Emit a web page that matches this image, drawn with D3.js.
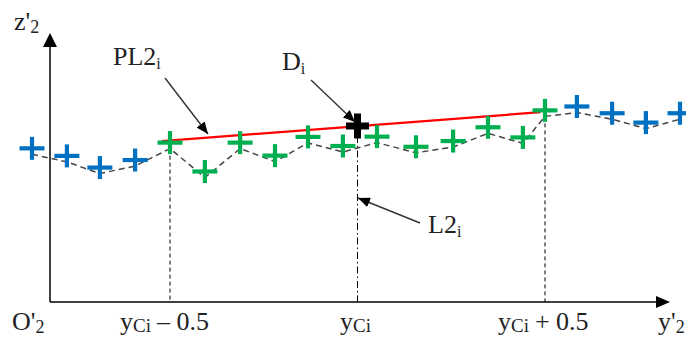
<!DOCTYPE html>
<html><head><meta charset="utf-8">
<script src="https://cdn.jsdelivr.net/npm/d3@7"></script>
</head><body style="margin:0">
<svg id="chart" width="686" height="342"></svg>
<script>
// Data (y' in units relative to yCi, z' in arbitrary units)
const blueLeftY  = [-0.868, -0.775, -0.687, -0.593];
const blueLeftZ  = [5.91, 5.62, 5.17, 5.46];
const greenY     = [-0.5, -0.407, -0.313, -0.22, -0.132, -0.039, 0.052, 0.156, 0.255, 0.348, 0.441, 0.5];
const greenZ     = [6.13, 5.02, 6.13, 5.63, 6.35, 6.0, 6.36, 5.97, 6.19, 6.72, 6.33, 7.37];
const blueRightY = [0.585, 0.679, 0.769, 0.86];
const blueRightZ = [7.52, 7.26, 6.90, 7.26];
const pointD     = {y: 0.0, z: 6.77};
const fitLineY   = [-0.522, 0.488];
const fitLineZ   = [6.19, 7.30];
const guideY     = [-0.5, 0.0, 0.5];
const tickLabels = ["yCi – 0.5", "yCi", "yCi + 0.5"];

const svg = d3.select("#chart");
const x = d3.scaleLinear().domain([-0.5, 0.5]).range([170, 545]);
const z = d3.scaleLinear().domain([0, 10]).range([302, 42]);
const x0 = 50, yAxisPos = 302;
const lineOff = 6; // dashed polyline sits slightly below the marker centres

const defs = svg.append("defs");
defs.append("marker").attr("id","ah").attr("viewBox","0 0 12 10")
  .attr("refX",12).attr("refY",5).attr("markerWidth",12).attr("markerHeight",10)
  .attr("markerUnits","userSpaceOnUse").attr("orient","auto")
  .append("path").attr("d","M0,0L12,5L0,10Z").attr("fill","#000");

// axes
svg.append("line").attr("x1",x0).attr("y1",yAxisPos).attr("x2",x0).attr("y2",46)
  .attr("stroke","#000").attr("stroke-width",1.5);
svg.append("path").attr("d",`M${x0},33L${x0-7},47L${x0+7},47Z`).attr("fill","#000");
svg.append("line").attr("x1",x0).attr("y1",yAxisPos).attr("x2",658).attr("y2",yAxisPos)
  .attr("stroke","#000").attr("stroke-width",1.5);
svg.append("path").attr("d",`M670,${yAxisPos}L656,${yAxisPos-6}L656,${yAxisPos+6}Z`).attr("fill","#000");

// all series points in order
const pts = [];
blueLeftY.forEach((v,i)=>pts.push({y:v,z:blueLeftZ[i],c:"#0070c0"}));
greenY.forEach((v,i)=>pts.push({y:v,z:greenZ[i],c:"#00b050"}));
blueRightY.forEach((v,i)=>pts.push({y:v,z:blueRightZ[i],c:"#0070c0"}));

// vertical guides
const zAt = yy => { const p = pts.find(d=>Math.abs(d.y-yy)<1e-9); return p ? z(p.z)+lineOff : z(pointD.z)+10; };
guideY.forEach((g,i)=>{
  svg.append("line").attr("x1",x(g)).attr("x2",x(g))
    .attr("y1", i===1 ? z(pointD.z)+10 : zAt(g)).attr("y2",yAxisPos)
    .attr("stroke","#000").attr("stroke-width",1)
    .attr("stroke-dasharray", i===1 ? "7,3,1.5,3" : "4,3");
});

// dashed polyline
svg.append("path").datum(pts)
  .attr("d", d3.line().x(d=>x(d.y)).y(d=>z(d.z)+lineOff))
  .attr("fill","none").attr("stroke","#444").attr("stroke-width",1.5).attr("stroke-dasharray","6,4");

// red line
svg.append("line").attr("x1",x(fitLineY[0])).attr("y1",z(fitLineZ[0]))
  .attr("x2",x(fitLineY[1])).attr("y2",z(fitLineZ[1]))
  .attr("stroke","#ff0000").attr("stroke-width",2.2);

// plus markers
function plus(g, cx, cy, w, h, sw, color){
  g.append("line").attr("x1",cx-w/2).attr("x2",cx+w/2).attr("y1",cy).attr("y2",cy)
    .attr("stroke",color).attr("stroke-width",sw);
  g.append("line").attr("x1",cx).attr("x2",cx).attr("y1",cy-h/2).attr("y2",cy+h/2)
    .attr("stroke",color).attr("stroke-width",sw);
}
const mg = svg.append("g");
pts.forEach(d=>plus(mg, x(d.y), z(d.z), 25, 23, 4.2, d.c));
plus(mg, x(pointD.y), z(pointD.z), 23, 25, 7, "#000");

// annotation arrows
function arrow(x1,y1,x2,y2){
  svg.append("line").attr("x1",x1).attr("y1",y1).attr("x2",x2).attr("y2",y2)
    .attr("stroke","#333").attr("stroke-width",1.4).attr("marker-end","url(#ah)");
}
arrow(165,78,208,134);
arrow(311,80,355,122);
arrow(420,223,358,198);

// text helper: each run is its own <text>, laid out left to right
function label(xp, yp, parts){
  let cx = xp;
  parts.forEach(p=>{
    const t = svg.append("text").attr("x",cx).attr("y",yp+(p.dy||0))
      .attr("font-family","Liberation Serif")
      .attr("font-size",p.s||26).attr("fill","#222").text(p.t);
    cx += t.node().getComputedTextLength() + (p.gap||0);
  });
}
label(14,30,[{t:"z'"},{t:"2",s:18,dy:3}]);
label(113,65,[{t:"PL2"},{t:"i",s:16,dy:4}]);
label(282,70,[{t:"D"},{t:"i",s:16,dy:4}]);
label(428,233,[{t:"L2"},{t:"i",s:16,dy:4}]);
label(12,330,[{t:"O'"},{t:"2",s:18,dy:3}]);
label(658,330,[{t:"y'"},{t:"2",s:18,dy:3}]);

// tick labels under guides
const tickX = [120, 340, 498];
tickLabels.forEach((s,i)=>{
  const rest = s.slice(3).trim();
  const parts = [{t:"y"},{t:"Ci",s:19,dy:2,gap:rest?6:0}];
  if(rest) parts.push({t:rest});
  label(tickX[i], 330, parts);
});
</script>
</body></html>
